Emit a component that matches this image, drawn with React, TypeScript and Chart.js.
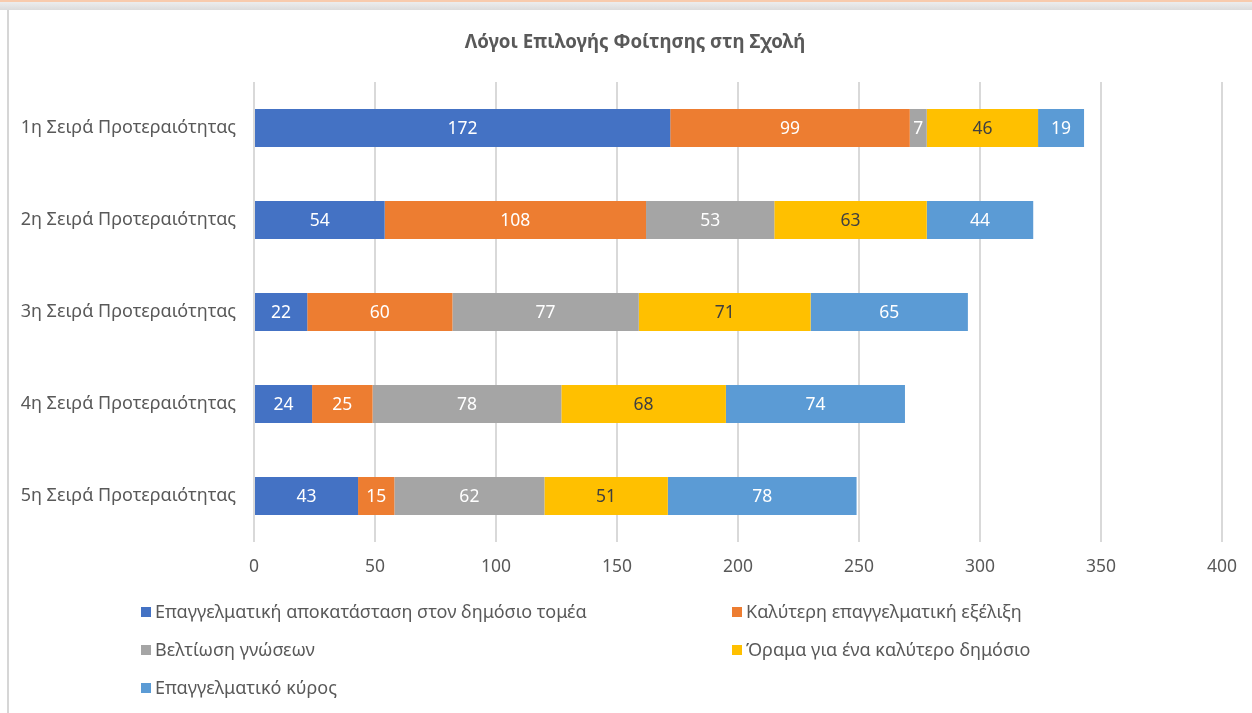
import React, { useEffect, useRef } from "react";
import { Chart, registerables } from "chart.js";

Chart.register(...registerables);

const categories = [
  "1η Σειρά Προτεραιότητας",
  "2η Σειρά Προτεραιότητας",
  "3η Σειρά Προτεραιότητας",
  "4η Σειρά Προτεραιότητας",
  "5η Σειρά Προτεραιότητας",
];

const seriesNames = [
  "Επαγγελματική αποκατάσταση στον δημόσιο τομέα",
  "Καλύτερη επαγγελματική εξέλιξη",
  "Βελτίωση γνώσεων",
  "Όραμα για ένα καλύτερο δημόσιο",
  "Επαγγελματικό κύρος",
];

const publicSector = [172, 54, 22, 24, 43];
const betterCareer = [99, 108, 60, 25, 15];
const knowledge = [7, 53, 77, 78, 62];
const vision = [46, 63, 71, 68, 51];
const prestige = [19, 44, 65, 74, 78];

const xTickMin = 0;
const xTickMax = 400;
const xTickStep = 50;

const title = "Λόγοι Επιλογής Φοίτησης στη Σχολή";

const seriesColors = ["#4472C4", "#ED7D31", "#A5A5A5", "#FFC000", "#5B9BD5"];
const labelColors = ["#FFFFFF", "#FFFFFF", "#FFFFFF", "#404040", "#FFFFFF"];

const FONT = "'Noto Sans', 'DejaVu Sans', sans-serif";
const TEXT = "#595959";

const overlayPlugin = {
  id: "overlay",
  afterDatasetsDraw(chart: any) {
    const ctx = chart.ctx;
    ctx.save();
    // data labels
    ctx.font = `17.5px ${FONT}`;
    ctx.textAlign = "center";
    ctx.textBaseline = "middle";
    chart.data.datasets.forEach((ds: any, di: number) => {
      const meta = chart.getDatasetMeta(di);
      meta.data.forEach((el: any, i: number) => {
        const p = el.getProps(["x", "y", "base"], true);
        ctx.fillStyle = labelColors[di];
        ctx.fillText(String(ds.data[i]), (p.x + p.base) / 2, p.y + 1);
      });
    });
    // title
    ctx.font = `bold 18.7px ${FONT}`;
    ctx.fillStyle = TEXT;
    ctx.fillText(title, 635, 43);
    // legend
    ctx.font = `18px ${FONT}`;
    ctx.textAlign = "left";
    const colX = [141, 732];
    const rowY = [612, 650, 688];
    chart.data.datasets.forEach((ds: any, di: number) => {
      const cx = colX[di % 2];
      const cy = rowY[Math.floor(di / 2)];
      ctx.fillStyle = seriesColors[di];
      ctx.fillRect(cx, cy - 5, 10, 10);
      ctx.fillStyle = TEXT;
      ctx.fillText(ds.label, cx + 14, cy + 1);
    });
    ctx.restore();
  },
};

export default function App() {
  const ref = useRef<HTMLCanvasElement | null>(null);

  useEffect(() => {
    const prevMargin = document.body.style.margin;
    document.body.style.margin = "0";
    const values = [publicSector, betterCareer, knowledge, vision, prestige];
    const chart = new Chart(ref.current as HTMLCanvasElement, {
      type: "bar",
      data: {
        labels: categories,
        datasets: values.map((v, i) => ({
          label: seriesNames[i],
          data: v,
          backgroundColor: seriesColors[i],
          borderWidth: 0,
          categoryPercentage: 1,
          barPercentage: 0.413,
        })),
      },
      options: {
        indexAxis: "y",
        animation: false,
        responsive: false,
        layout: { padding: { top: 82, right: 30, bottom: 0, left: 0 } },
        plugins: {
          legend: { display: false },
          title: { display: false },
          tooltip: { enabled: false },
        },
        scales: {
          x: {
            stacked: true,
            min: xTickMin,
            max: xTickMax,
            ticks: {
              stepSize: xTickStep,
              color: TEXT,
              font: { family: FONT, size: 17.5 },
              padding: 15,
              maxRotation: 0,
            },
            grid: { color: "#D9D9D9", lineWidth: 2, drawTicks: false },
            border: { display: false },
            afterFit: (scale: any) => {
              scale.height = 171;
            },
          },
          y: {
            stacked: true,
            ticks: {
              color: TEXT,
              font: { family: FONT, size: 18 },
              padding: 18,
            },
            grid: { display: false, drawTicks: false },
            border: { display: false },
            afterFit: (scale: any) => {
              scale.width = 254;
            },
          },
        },
      },
      plugins: [overlayPlugin],
    });
    return () => {
      chart.destroy();
      document.body.style.margin = prevMargin;
    };
  }, []);

  return (
    <div
      style={{
        position: "fixed",
        left: 0,
        top: 0,
        width: 1252,
        height: 713,
        background: "#FFFFFF",
        overflow: "hidden",
      }}
    >
      <canvas
        ref={ref}
        width={1252}
        height={713}
        style={{ position: "absolute", left: 0, top: 0, width: 1252, height: 713 }}
      />
      <div style={{ position: "absolute", left: 0, top: 0, width: 1252, height: 2, background: "#F8CBAD" }} />
      <div style={{ position: "absolute", left: 0, top: 2, width: 1252, height: 8, background: "linear-gradient(#EDEDED, #DCDCDC)" }} />
      <div style={{ position: "absolute", left: 7, top: 10, width: 2, height: 703, background: "#D6D6D6" }} />
    </div>
  );
}
